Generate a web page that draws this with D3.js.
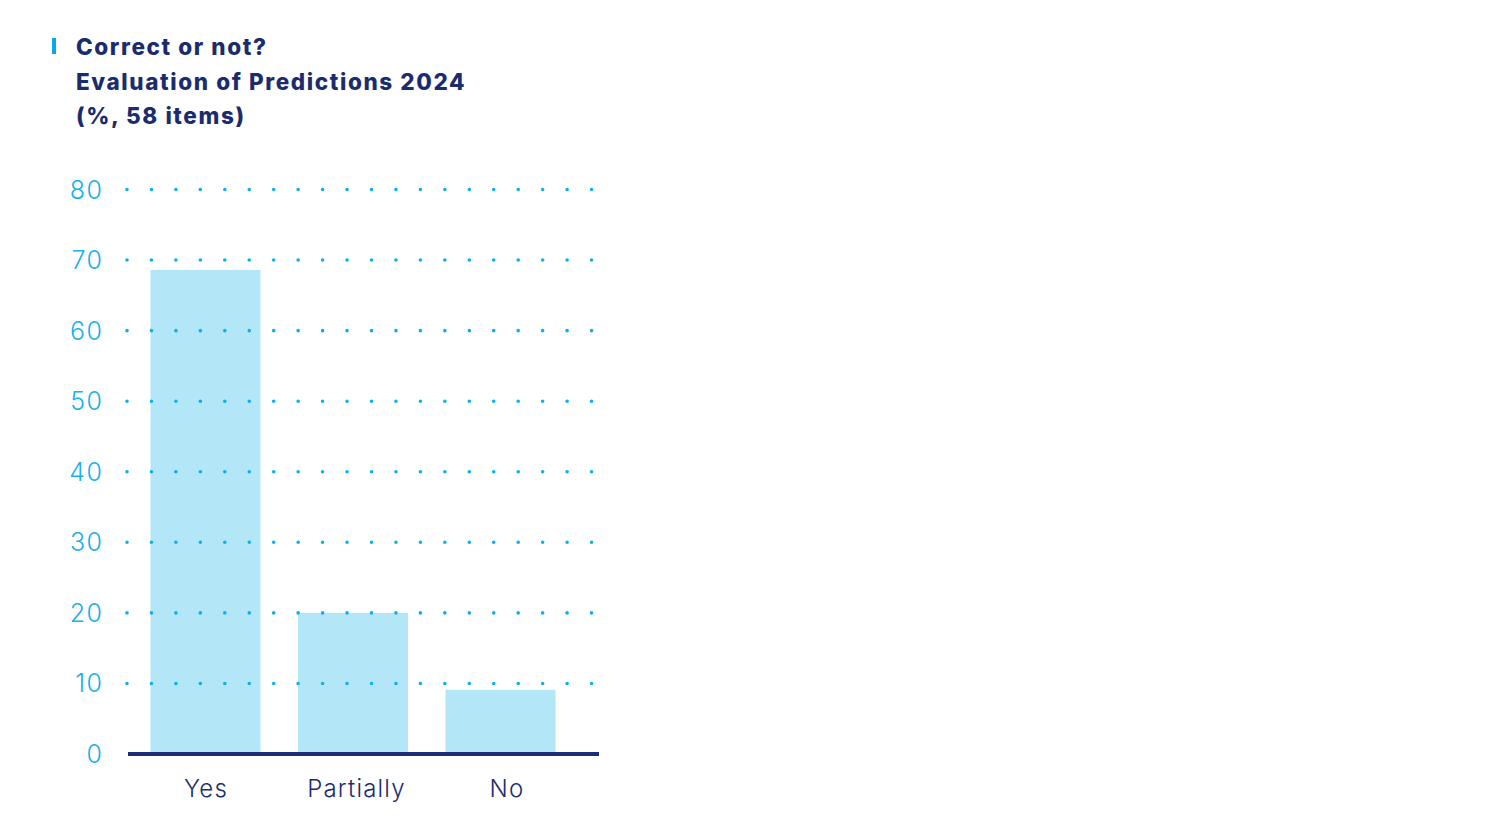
<!DOCTYPE html>
<html><head><meta charset="utf-8">
<script src="https://cdn.jsdelivr.net/npm/d3@7"></script>
<style>body{margin:0;background:#fff}</style>
</head><body>
<svg id="c" width="1488" height="837"></svg>
<script>
const categories = ["Yes", "Partially", "No"];
const values = [68.6, 20.0, 9.1];
const yTicks = [0, 10, 20, 30, 40, 50, 60, 70, 80];
const titleLines = ["Correct or not?", "Evaluation of Predictions 2024", "(%, 58 items)"];

const svg = d3.select("#c");
const y = d3.scaleLinear().domain([0, 80]).range([754, 189.5]);
const x = d3.scaleBand().domain(categories).range([128, 578]).paddingInner(0.254).paddingOuter(0.1525);
const xl = d3.scaleBand().domain(categories).range([130.75, 582.25]).padding(0);

// title
svg.append("rect").attr("x", 52).attr("y", 38).attr("width", 4).attr("height", 16).attr("fill", "#0aa6ea");
svg.append("g").selectAll("text").data(titleLines).join("text")
  .attr("x", 76).attr("y", (d, i) => 55 + i * 34.5)
  .attr("font-family", "Inter, 'Noto Sans', sans-serif").attr("font-weight", 800)
  .attr("font-size", 22.5).attr("letter-spacing", 1.6).attr("fill", "#1b2c6e").text(d => d);

// bars
svg.append("g").selectAll("rect").data(values).join("rect")
  .attr("x", (d, i) => x(categories[i])).attr("width", x.bandwidth())
  .attr("y", d => y(d)).attr("height", d => y(0) - y(d))
  .attr("fill", "#b3e7f8");

// dotted grid
svg.append("g").selectAll("line").data(yTicks.filter(t => t > 0)).join("line")
  .attr("x1", 127).attr("x2", 593).attr("y1", d => y(d)).attr("y2", d => y(d))
  .attr("stroke", "#0ab0ef").attr("stroke-width", 3.6).attr("stroke-linecap", "round")
  .attr("stroke-dasharray", "0 24.45");

// y labels
svg.append("g").selectAll("text").data(yTicks).join("text")
  .attr("x", 103.5).attr("y", d => y(d)).attr("dy", "0.36em").attr("text-anchor", "end")
  .attr("font-family", "Inter, 'Noto Sans', sans-serif").attr("font-weight", 300)
  .attr("font-size", 25).attr("letter-spacing", 1.5).attr("fill", "#1ab0ea").text(d => d);

// baseline axis
svg.append("line").attr("x1", 128).attr("x2", 599).attr("y1", y(0)).attr("y2", y(0))
  .attr("stroke", "#1b2c78").attr("stroke-width", 4);

// x labels
svg.append("g").selectAll("text").data(categories).join("text")
  .attr("x", d => xl(d) + xl.bandwidth() / 2).attr("y", 797).attr("text-anchor", "middle")
  .attr("font-family", "Inter, 'Noto Sans', sans-serif").attr("font-weight", 300)
  .attr("font-size", 24).attr("letter-spacing", 1.2).attr("fill", "#1b2c6e").text(d => d);
</script>
</body></html>
